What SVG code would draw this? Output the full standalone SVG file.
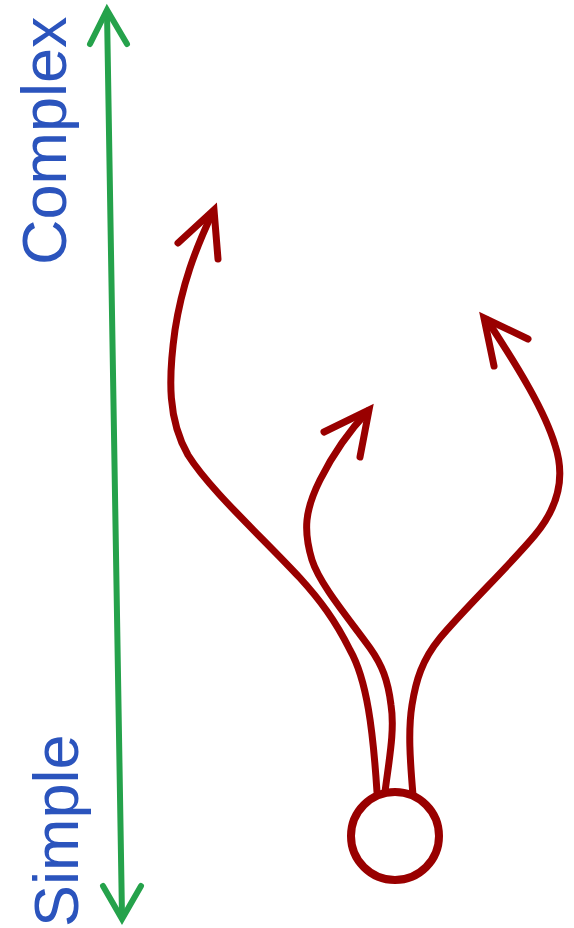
<svg xmlns="http://www.w3.org/2000/svg" width="574" height="928" viewBox="0 0 574 928">
<style>
.red{fill:none;stroke:#990000;stroke-width:7;stroke-linecap:round;stroke-linejoin:miter;stroke-miterlimit:10}
.green{fill:none;stroke:#25a24b;stroke-width:6;stroke-linecap:round;stroke-linejoin:miter;stroke-miterlimit:10}
.lbl{font-family:"Liberation Sans",Arial,sans-serif;font-size:63px;fill:#2b54bd}
</style>
<rect width="574" height="928" fill="#ffffff"/>
<g id="axis">
<line class="green" x1="107" y1="12" x2="122" y2="916"/>
<polyline class="green" points="90,44 107,10 127,44"/>
<polyline class="green" points="103,886 122,919 141,886"/>
</g>
<g id="label-complex"><text class="lbl" transform="translate(66,265) rotate(-90)">Complex</text></g>
<g id="label-simple"><text class="lbl" transform="translate(78,927) rotate(-90)">Simple</text></g>
<g id="origin"><circle cx="395" cy="836" r="44" fill="none" stroke="#990000" stroke-width="8"/></g>
<g id="connectors">
<path class="red" d="M377,792 C373,730 367,680 350,650 C335,620 320,600 300,578 C260,535 210,490 188,455 C168,420 168,380 175,330 C182,285 195,250 212,214"/>
<polyline class="red" points="178,243 214,210 218,259"/>
<path class="red" d="M385,792 C389,760 395,730 391,705 C388,680 382,665 370,648 C350,620 320,585 312,560 C303,530 305,510 320,480 C335,450 350,430 368,411"/>
<polyline class="red" points="324,432 369,410 360,457"/>
<path class="red" d="M413,795 C410,760 408,730 412,705 C416,680 422,660 440,638 C465,608 510,565 535,535 C560,505 565,475 555,445 C545,412 520,370 487,320"/>
<polyline class="red" points="528,339 484,318 494,366"/>
</g>
</svg>
